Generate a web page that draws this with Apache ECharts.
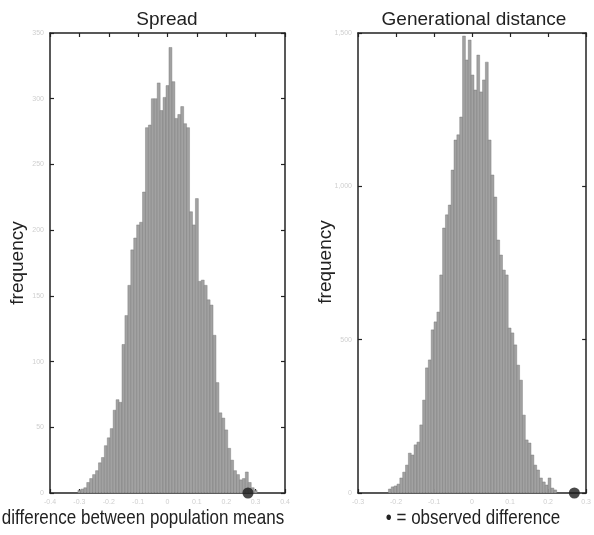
<!DOCTYPE html>
<html>
<head>
<meta charset="utf-8">
<script src="https://cdn.jsdelivr.net/npm/echarts@6/dist/echarts.min.js"></script>
<style>
  html, body { margin: 0; padding: 0; background: #fff; }
  #chart { width: 594px; height: 535px; }
</style>
</head>
<body>
<div id="chart"></div>
<script>
// Spread: histogram of the permuted differences
const spreadStart = -0.305
const spreadBinWidth = 0.01
const spreadCounts = [
  2, 3, 4, 8, 11, 14, 17, 23, 27, 36,
  42, 49, 63, 71, 69, 113, 135, 158, 185, 194,
  204, 206, 229, 278, 280, 300, 300, 312, 291, 301,
  310, 339, 313, 285, 288, 294, 281, 278, 214, 204,
  224, 161, 162, 158, 147, 143, 120, 84, 61, 57,
  48, 34, 25, 17, 14, 10, 11, 16, 8, 4,
  2
]
const spreadObserved = 0.274
const spreadXTicks = [-0.4, 0.4, 0.1]
const spreadYTicks = [0, 350, 50]

// Generational distance
const gdStart = -0.22
const gdBinWidth = 0.0075
const gdCounts = [
  13, 20, 23, 29, 49, 68, 91, 130, 124, 157,
  166, 222, 303, 408, 434, 532, 558, 590, 711, 864,
  907, 939, 1053, 1151, 1168, 1226, 1490, 1412, 1477, 1363,
  1314, 1428, 1308, 1347, 1405, 1151, 1037, 965, 825, 776,
  727, 711, 538, 522, 483, 417, 368, 254, 173, 163,
  124, 91, 75, 49, 36, 26, 49, 16, 10
]
const gdObserved = 0.269
const gdXTicks = [-0.3, 0.3, 0.1]
const gdYTicks = [0, 1500, 500]

const font = 'Liberation Sans, Arial, sans-serif'

// [start, end, count] for each bin
const toBins = (start, width, counts) =>
  counts.map((c, i) => [start + i * width, start + (i + 1) * width, c])

const frameLine = { show: true, onZero: false, lineStyle: { color: '#222', width: 1.5 } }
const tick = { show: true, inside: true, length: 4, lineStyle: { color: '#222', width: 1.2 } }
const faintLabel = { show: true, color: '#cfcfcf', fontSize: 7, fontFamily: font, margin: 6 }

const xAxes = (grid, t, withLabel) => ({
  type: 'value', gridIndex: grid,
  min: t[0], max: t[1], interval: t[2],
  position: withLabel ? 'bottom' : 'top',
  axisLine: frameLine, axisTick: tick,
  axisLabel: withLabel ? faintLabel : { show: false },
  splitLine: { show: false }
})
const yAxes = (grid, t, withLabel) => ({
  type: 'value', gridIndex: grid,
  min: t[0], max: t[1], interval: t[2],
  position: withLabel ? 'left' : 'right',
  axisLine: frameLine, axisTick: tick,
  axisLabel: withLabel ? faintLabel : { show: false },
  splitLine: { show: false }
})

const histSeries = (axis, data) => ({
  type: 'custom',
  xAxisIndex: axis, yAxisIndex: axis,
  data: data,
  encode: { x: [0, 1], y: 2 },
  renderItem: (params, api) => {
    const p0 = api.coord([api.value(0), api.value(2)])
    const p1 = api.coord([api.value(1), 0])
    return {
      type: 'rect',
      shape: { x: p0[0], y: p0[1], width: p1[0] - p0[0], height: p1[1] - p0[1] },
      style: { fill: '#a2a2a2', stroke: '#6e6e6e', lineWidth: 0.4 }
    }
  }
})

const dotSeries = (axis, x) => ({
  type: 'scatter',
  xAxisIndex: axis, yAxisIndex: axis,
  data: [[x, 0]],
  symbolSize: 11,
  clip: false,
  z: 10,
  itemStyle: { color: '#1c1c1c' }
})

const label = (text, x, y, size, extra) => Object.assign({
  type: 'text', x: x, y: y,
  style: { text: text, font: size + 'px ' + font, fill: '#222', align: 'center', verticalAlign: 'middle' }
}, extra || {})

const option = {
  animation: false,
  grid: [
    { left: 50, right: 309, top: 33, bottom: 42 },
    { left: 358, right: 1, top: 33, bottom: 42 }
  ],
  xAxis: [
    xAxes(0, spreadXTicks, true), xAxes(0, spreadXTicks, false),
    xAxes(1, gdXTicks, true), xAxes(1, gdXTicks, false)
  ],
  yAxis: [
    yAxes(0, spreadYTicks, true), yAxes(0, spreadYTicks, false),
    yAxes(1, gdYTicks, true), yAxes(1, gdYTicks, false)
  ],
  series: [
    histSeries(0, toBins(spreadStart, spreadBinWidth, spreadCounts)),
    histSeries(2, toBins(gdStart, gdBinWidth, gdCounts)),
    dotSeries(0, spreadObserved),
    dotSeries(2, gdObserved)
  ],
  graphic: [
    label('Spread', 167, 20, 19),
    label('Generational distance', 474, 20, 19),
    label('frequency', 18, 263, 19, { rotation: Math.PI / 2 }),
    label('frequency', 326, 262, 19, { rotation: Math.PI / 2 }),
    label('difference between population means', 143, 519, 17, { scaleY: 1.15 }),
    label('\u2022 = observed difference', 473, 519, 17, { scaleY: 1.15 })
  ]
}

const chart = echarts.init(document.getElementById('chart'))
chart.setOption(option)
</script>
</body>
</html>
